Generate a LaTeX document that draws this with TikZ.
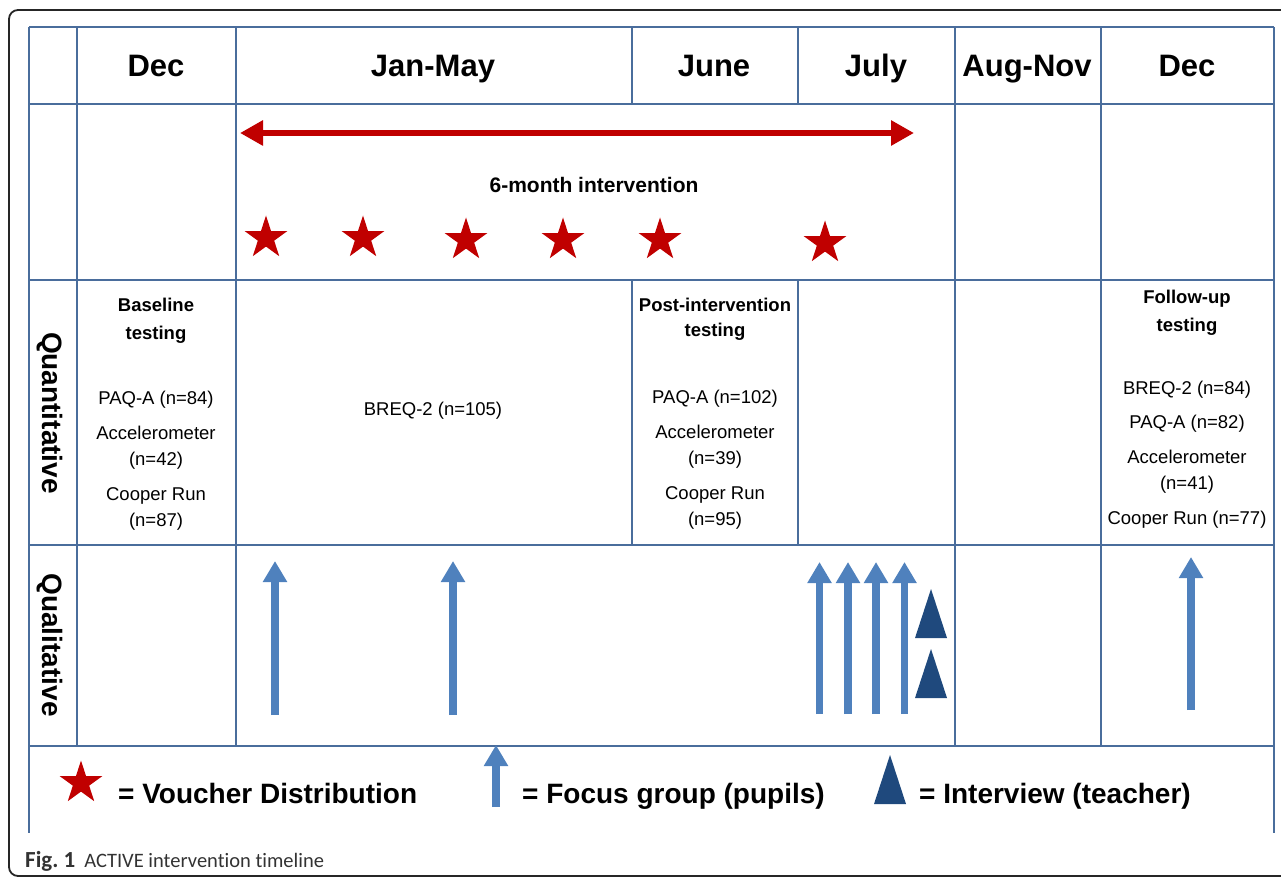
\documentclass[tikz,border=0pt]{standalone}
\usepackage{fontspec}
\setmainfont{Liberation Sans}
\newfontfamily\capfont[Ligatures=NoCommon]{Carlito}
\usetikzlibrary{arrows.meta,shapes.geometric}
\definecolor{gridblue}{HTML}{4A6D9C}
\definecolor{vred}{HTML}{C00000}
\definecolor{fblue}{HTML}{4F81BD}
\definecolor{tblue}{HTML}{1F497D}
\definecolor{capgray}{HTML}{333333}
\begin{document}
\begin{tikzpicture}[x=1pt, y=-1pt,
    grid/.style = {draw=gridblue, line width=1.6pt},
    month/.style = {anchor=base, font=\fontsize{31}{37}\selectfont\bfseries},
    side/.style = {rotate=-90, font=\fontsize{28}{34}\selectfont\bfseries},
    title/.style = {align=center, font=\fontsize{18.5}{28}\selectfont\bfseries},
    item/.style = {align=center, font=\fontsize{18.5}{26}\selectfont},
    voucher/.style = {star, star points=5, star point ratio=2.62, fill=vred, minimum size=45pt, inner sep=0pt},
    span/.style = {draw=vred, line width=6pt, {Triangle[width=24pt,length=23pt]}-{Triangle[width=24pt,length=23pt]}},
    focus/.style = {draw=fblue, line width=7.5pt, -{Triangle[width=23pt,length=21pt]}},
    interview/.style = {fill=tblue},
    key/.style = {anchor=base west, inner sep=0pt, font=\fontsize{28}{34}\selectfont\bfseries}]
  \useasboundingbox (0,0) rectangle (1281,877);
  \draw[line width=1.8pt, rounded corners=9pt, draw=black!85] (9,10) rectangle (1300,876);
  % table lines
  \foreach \y in {27,104,280,545,746}
    \draw[grid] (29,\y) -- (1274,\y);
  \foreach \x in {77,236,955,1101}
    \draw[grid] (\x,27) -- (\x,746);
  \foreach \x in {632,798}
    \draw[grid] (\x,27) -- (\x,104) (\x,280) -- (\x,545);
  \draw[grid] (29,27) -- (29,833) (1274,27) -- (1274,833);
  % months
  \node[month] (dec1) at (156,77) {Dec};
  \node[month] (janmay) at (433,77) {Jan-May};
  \node[month] (june) at (714,77) {June};
  \node[month] (july) at (876,77) {July};
  \node[month] (augnov) at (1027,77) {Aug-Nov};
  \node[month] (dec2) at (1187,77) {Dec};
  % intervention
  \coordinate (start) at (240,133);
  \coordinate (stop) at (914,133);
  \draw[span] (start) -- (stop);
  \node[font=\fontsize{21}{25}\selectfont\bfseries] (six) at (594,185) {6-month intervention};
  \foreach \x/\y [count=\i] in {266/238,363/238,466/240,563/240,660/240,825/243}
    \node[voucher] (v\i) at (\x,\y) {};
  % quantitative
  \node[side] (quant) at (50,413) {Quantitative};
  \node[title] (base) at (156,321) {Baseline\\testing};
  \node[item] (basen) at (156,461) {PAQ-A (n=84)\\[9pt]Accelerometer\\(n=42)\\[9pt]Cooper Run\\(n=87)};
  \node[item] (breq) at (433,411) {BREQ-2 (n=105)};
  \node[title] (post) at (715,319) {Post-intervention\\[-3pt]testing};
  \node[item] (postn) at (715,460) {PAQ-A (n=102)\\[9pt]Accelerometer\\(n=39)\\[9pt]Cooper Run\\(n=95)};
  \node[title] (follow) at (1187,313) {Follow-up\\testing};
  \node[item] (follown) at (1187,455) {BREQ-2 (n=84)\\[8pt]PAQ-A (n=82)\\[9pt]Accelerometer\\(n=41)\\[9pt]Cooper Run (n=77)};
  % qualitative
  \node[side] (qual) at (50,645) {Qualitative};
  \foreach \x/\b/\t in {275/715/561,453/715/561,819.5/714/562,848/714/562,876/714/562,904.5/714/562,1191/710/557}
    \draw[focus] (\x,\b) -- (\x,\t);
  \fill[interview] (915,638) -- (931,589) -- (947,638) -- cycle;
  \fill[interview] (915,698) -- (931,649) -- (947,698) -- cycle;
  % legend
  \node[voucher] (kstar) at (81,783) {};
  \node[key] (kv) at (118,803) {= Voucher Distribution};
  \draw[focus] (496,807) -- (496,745);
  \node[key] (kf) at (522,803) {= Focus group (pupils)};
  \fill[interview] (874,804) -- (890,755) -- (906,804) -- cycle;
  \node[key] (ki) at (919,803) {= Interview (teacher)};
  \node[anchor=base west, inner sep=0pt, text=capgray, font=\capfont\fontsize{20.5}{24}\selectfont] (caption) at (25,867) {{\fontsize{23}{24}\selectfont\textbf{Fig.~1}}\hspace{9pt}ACTIVE intervention timeline};
\end{tikzpicture}
\end{document}
